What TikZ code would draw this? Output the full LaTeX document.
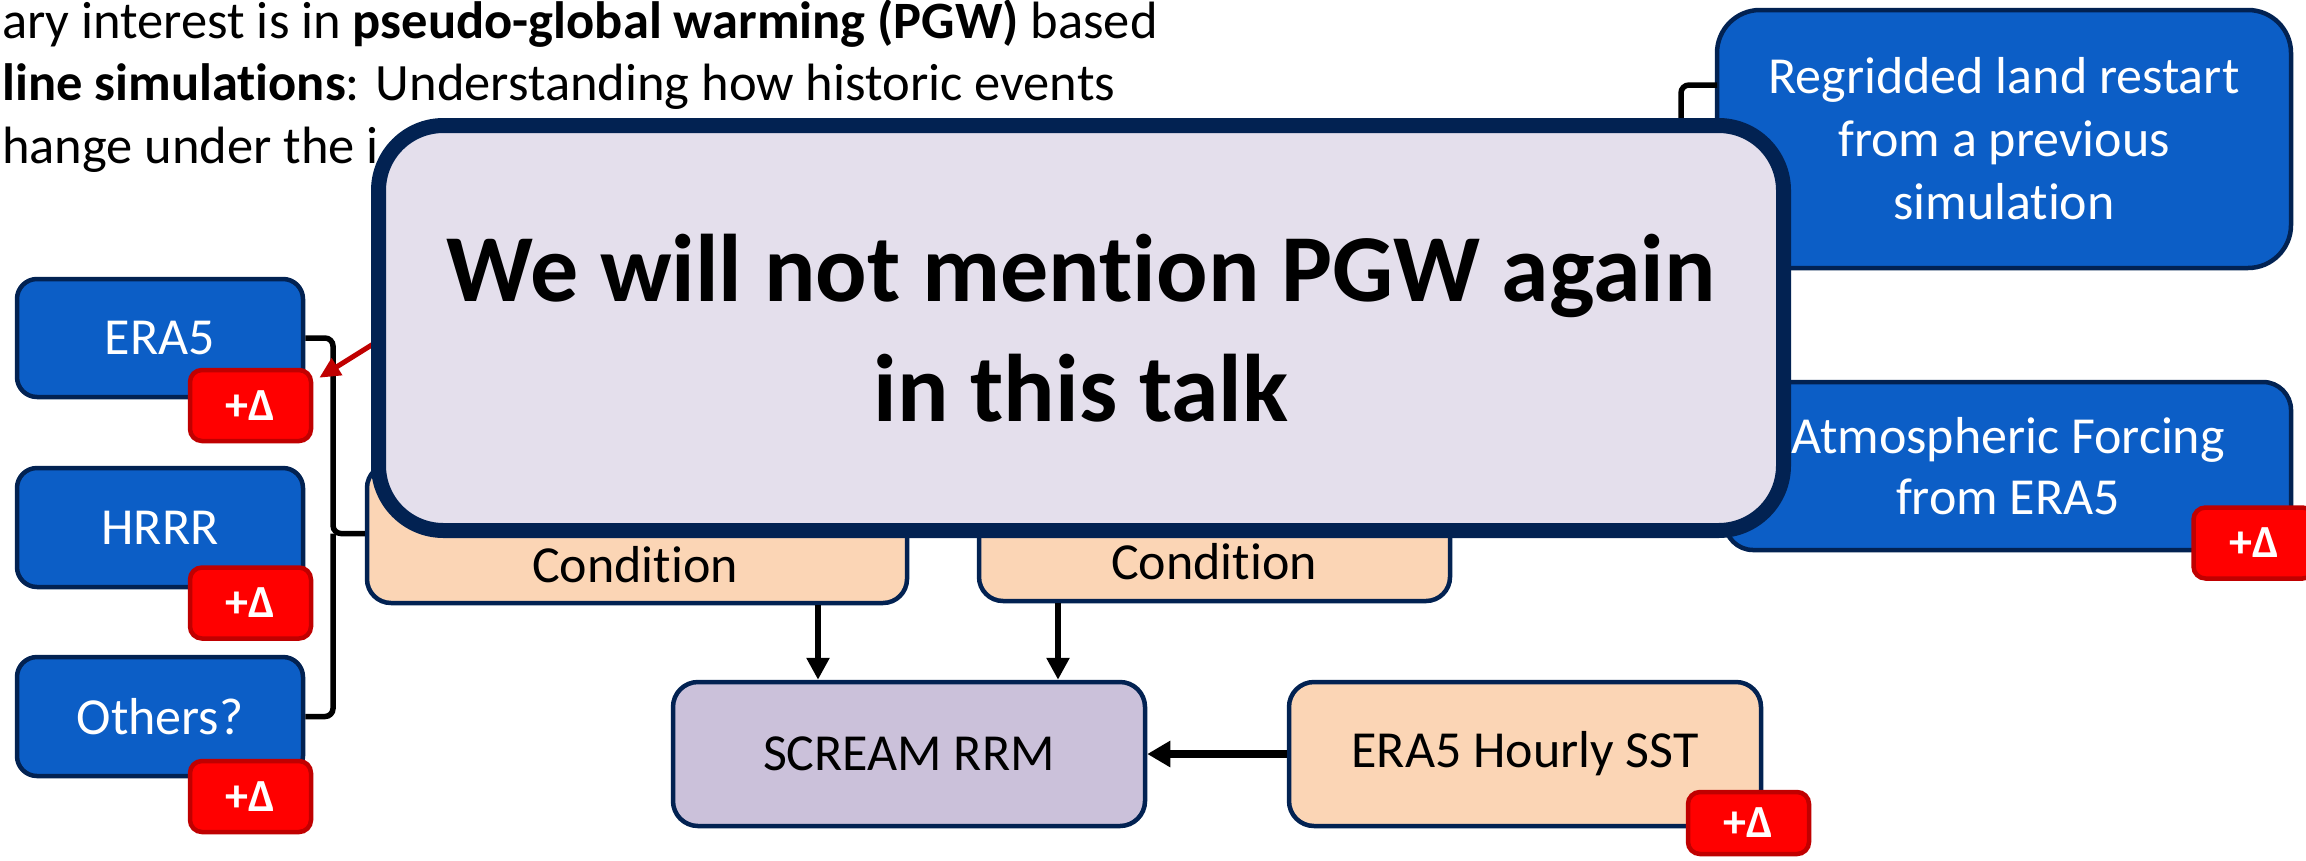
\documentclass[tikz,border=0pt]{standalone}
\usepackage{fontspec}
\setmainfont{Carlito}[Ligatures={NoCommon}]
\usetikzlibrary{arrows.meta}
\definecolor{navy}{HTML}{022252}
\definecolor{boxblue}{HTML}{0C5EC6}
\definecolor{overfill}{HTML}{E4DFEC}
\definecolor{peach}{HTML}{FBD5B5}
\definecolor{lavender}{HTML}{CBC1DA}
\definecolor{badgered}{HTML}{FF0000}
\definecolor{darkred}{HTML}{C00000}
\tikzset{
  box/.style={draw=navy, line width=4.5pt, inner sep=0pt, align=center},
  bluebox/.style={box, fill=boxblue, text=white, font=\fontsize{52}{63}\selectfont},
  peachbox/.style={box, fill=peach, text=black, font=\fontsize{52}{63}\selectfont},
  screambox/.style={box, fill=lavender, text=black, font=\fontsize{52}{63}\selectfont},
  badge/.style={draw=darkred, line width=4.5pt, fill=badgered, text=white, inner sep=0pt,
    minimum width=121pt, minimum height=71pt, rounded corners=12pt,
    font=\fontsize{46}{50}\selectfont\bfseries},
  plain/.style={inner sep=0pt, font=\fontsize{52}{63}\selectfont, text=black},
  toptext/.style={inner sep=0pt, anchor=base west, font=\fontsize{52.5}{63}\selectfont, text=black},
  conn/.style={draw=black, line width=5.5pt},
  arr/.style={draw=black, line width=6pt, -{Triangle[length=22pt,width=22pt]}},
  thickarr/.style={draw=black, line width=8pt, -{Triangle[length=23pt,width=25pt]}},
  redarr/.style={draw=darkred, line width=5pt, -{Triangle[length=21pt,width=19pt]}},
  overlay/.style={draw=navy, line width=15pt, fill=overfill, inner sep=0pt, align=center,
    rounded corners=65pt, font=\fontsize{96}{120}\selectfont\bfseries, text=black}
}
\begin{document}
\begin{tikzpicture}[x=1pt,y=-1pt]
\useasboundingbox (0,0) rectangle (2306,860);
\fill[white] (0,0) rectangle (2306,860);

% top text
\node[toptext] (t1) at (2,38) {ary interest is in \textbf{pseudo-global warming (PGW)} based};
\node[toptext] (t2) at (2,100.5) {\textbf{line simulations}: Understanding how historic events};
\node[toptext] (t3) at (2,163) {hange under the i};

% left data boxes
\node[bluebox, minimum width=286pt, minimum height=118pt, rounded corners=20pt] (era5) at (160,338) {ERA5};
\node[bluebox, minimum width=286pt, minimum height=119pt, rounded corners=20pt] (hrrr) at (160,527.5) {HRRR};
\node[bluebox, minimum width=286pt, minimum height=119pt, rounded corners=20pt] (others) at (160,716.5) {Others?};
\node[badge] (b1) at (250.5,405.5) {+Δ};
\node[badge] (b2) at (250.5,603) {+Δ};
\node[badge] (b3) at (250.5,796.5) {+Δ};

% initial condition boxes
\node[peachbox, minimum width=540pt, minimum height=139pt, rounded corners=24pt] (ic1) at (637,533.5) {};
\node[plain] (ic1t) at (635,565) {Condition};
\node[peachbox, minimum width=471pt, minimum height=137pt, rounded corners=24pt] (ic2) at (1214.5,532.5) {};
\node[plain] (ic2t) at (1214,562) {Condition};

% bottom boxes
\node[screambox, minimum width=472pt, minimum height=144pt, rounded corners=25pt] (scream) at (909,754) {SCREAM RRM};
\node[peachbox, minimum width=472pt, minimum height=144pt, rounded corners=25pt] (sst) at (1525,754) {ERA5 Hourly SST};
\node[badge, minimum height=62pt] (b4) at (1748.5,823) {+Δ};

% right boxes
\node[bluebox, minimum width=574pt, minimum height=258pt, rounded corners=43pt] (regrid) at (2004,139)
  {Regridded land restart\\from a previous\\simulation};
\node[bluebox, minimum width=566pt, minimum height=168pt, rounded corners=28pt,
  font=\fontsize{52}{61}\selectfont] (atmos) at (2008,466) {Atmospheric Forcing\\from ERA5};
\node[badge] (b5) at (2254,543) {+Δ};

% brace connector
\coordinate (tip) at (333,533.5);
\draw[conn, rounded corners=8pt] (era5.east) -| (tip) -- (ic1.west);
\draw[conn, rounded corners=8pt] (others.east) -| (tip);

% regrid connector (runs under the overlay)
\coordinate (rg) at (1717,85);
\coordinate (rgd) at (1681,320);
\draw[conn, rounded corners=8pt] (rg) -| (rgd);

% arrows into SCREAM
\coordinate (a1) at (818,0);
\coordinate (a2) at (1058,0);
\draw[arr] (ic1.south -| a1) -- (scream.north -| a1);
\draw[arr] (ic2.south -| a2) -- (scream.north -| a2);
\draw[thickarr] (sst.west) -- (scream.east);

% red arrow to ERA5 badge
\coordinate (ra) at (450,296);
\draw[redarr] (ra) -- ([shift={(6,10)}]b1.north east);

% overlay
\node[overlay, minimum width=1405pt, minimum height=405pt] (over) at (1081,328)
  {We will not mention PGW again\\in this talk};
\end{tikzpicture}
\end{document}
